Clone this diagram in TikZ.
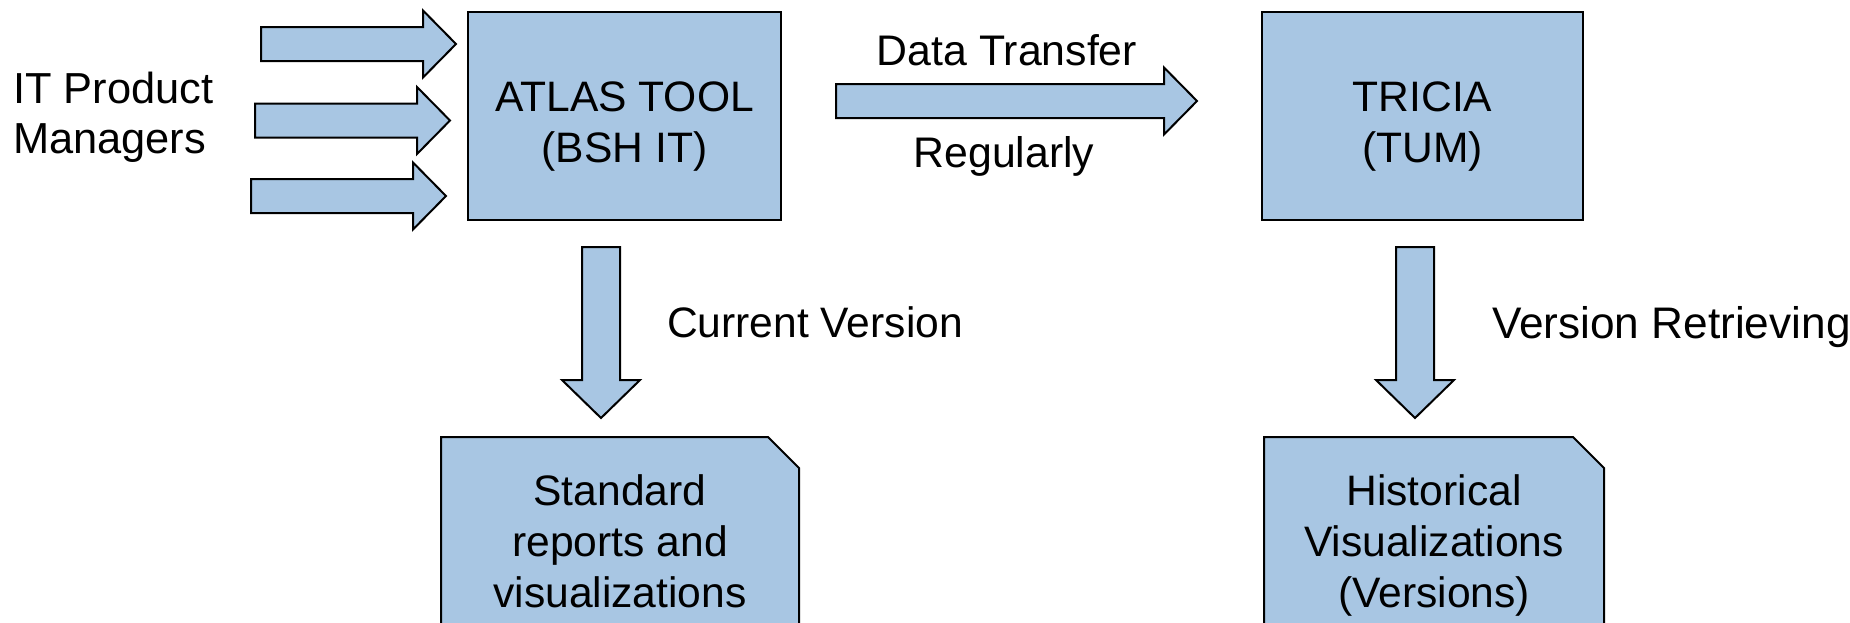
\documentclass[tikz,border=0pt]{standalone}
\usepackage{fontspec}
\setmainfont{Liberation Sans}
\usetikzlibrary{calc,backgrounds}
\definecolor{boxblue}{HTML}{A8C6E3}

\begin{document}
\begin{tikzpicture}[x=0.5pt,y=-0.5pt,
		box/.style={draw=black,line width=1pt,fill=boxblue,align=center},
		docbox/.style={align=center},
		fat/.style={draw=black,line width=1pt,fill=boxblue},
		fatright/.style={fat,to path={
			($(\tikztostart)+(0,-17)$) -- ($(\tikztotarget)+(-33,-17)$) -- ($(\tikztotarget)+(-33,-33.5)$)
			-- (\tikztotarget) -- ($(\tikztotarget)+(-33,33.5)$) -- ($(\tikztotarget)+(-33,17)$)
			-- ($(\tikztostart)+(0,17)$) -- cycle}},
		fatdown/.style={fat,to path={
			($(\tikztostart)+(-19,0)$) -- ($(\tikztotarget)+(-19,-38)$) -- ($(\tikztotarget)+(-39,-38)$)
			-- (\tikztotarget) -- ($(\tikztotarget)+(39,-38)$) -- ($(\tikztotarget)+(19,-38)$)
			-- ($(\tikztostart)+(19,0)$) -- cycle}}]
		\tikzstyle{every node}=[inner sep=0pt, outer sep=0pt, font=\fontsize{21.3pt}{25.5pt}\selectfont]
		\useasboundingbox (0,0) rectangle (1850,622);
		\clip (0,0) rectangle (1850,622);
		\node[box, minimum width=156.5pt, minimum height=104pt] (atlas) at (624.5,116) {\rule{0pt}{25.1pt}ATLAS TOOL\\(BSH IT)};
		\node[box, minimum width=160.5pt, minimum height=104pt] (tricia) at (1422.5,116) {\rule{0pt}{25.1pt}TRICIA\\(TUM)};
		\node[docbox, minimum width=179pt, minimum height=104pt] (stdrep) at (620,541) {Standard\\reports and\\visualizations};
		\node[docbox, minimum width=170pt, minimum height=108.2pt] (histvis) at (1434,545.2) {Historical\\Visualizations\\(Versions)};
		\begin{scope}[on background layer]
			\foreach \n in {stdrep,histvis}
			\draw[fat] (\n.north west) -- ([xshift=-15.5pt]\n.north east) -- ([yshift=-15.5pt]\n.north east)
			-- (\n.south east) -- (\n.south west) -- cycle;
		\end{scope}
		\node[anchor=north west, align=left, font=\fontsize{21.7pt}{25pt}\selectfont] (pms) at (13,72) {IT Product\\Managers};
		\node[anchor=base, font=\fontsize{21.4pt}{25pt}\selectfont] (dtlabel) at (1007,65) {Data Transfer};
		\node[anchor=base, font=\fontsize{21.4pt}{25pt}\selectfont] (reglabel) at (1004,167) {Regularly};
		\node[anchor=base west] (curlabel) at (667,337) {Current Version};
		\node[anchor=base west, font=\fontsize{22.1pt}{25pt}\selectfont] (verlabel) at (1492,338) {Version Retrieving};
		\foreach \i/\x/\y in {1/261/44,2/255/120.5,3/251/196} {
			\coordinate (pm\i) at (\x,\y);
			\coordinate (pmtip\i) at (\x+195,\y);
			\draw[fatright] (pm\i) to (pmtip\i);
		}
		\coordinate (dttail) at (836,101);
		\coordinate (dttip) at (1197,101);
		\draw[fatright] (dttail) to (dttip);
		\coordinate (curtail) at (601,247);
		\coordinate (curtip) at (601,418);
		\draw[fatdown] (curtail) to (curtip);
		\coordinate (vertail) at (1415,247);
		\coordinate (vertip) at (1415,418);
		\draw[fatdown] (vertail) to (vertip);
\end{tikzpicture}
\end{document}
